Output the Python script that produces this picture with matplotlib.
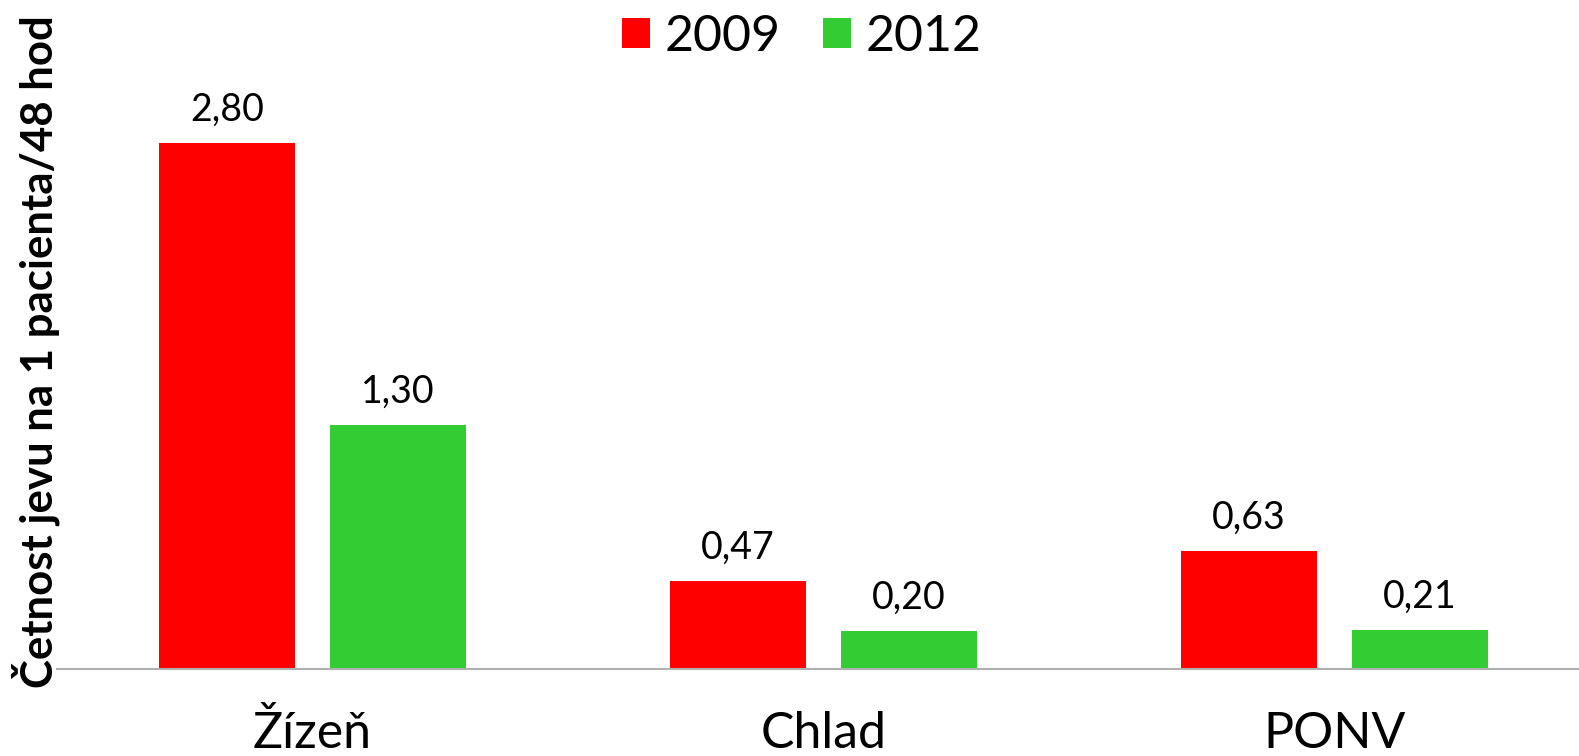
import numpy as np
import matplotlib.pyplot as plt

plt.rcParams['font.family'] = ['Lato', 'DejaVu Sans']

# data
categories = ['Žízeň', 'Chlad', 'PONV']
years = ['2009', '2012']
values_2009 = [2.80, 0.47, 0.63]
values_2012 = [1.30, 0.20, 0.21]
colors = ['#FF0000', '#33CC33']

W, H = 1579, 756
fig = plt.figure(figsize=(W / 100, H / 100), dpi=100)
ax = fig.add_axes([57 / W, (H - 669) / H, 1 - 57 / W, 669 / H])

x = np.arange(len(categories))
bw = 0.266
off = 0.167

for i, (vals, col, lab) in enumerate(zip([values_2009, values_2012], colors, years)):
    ax.bar(x + (2 * i - 1) * off, vals, bw, color=col, label=lab, zorder=2)
    for xi, v in zip(x + (2 * i - 1) * off, vals):
        ax.annotate(f'{v:.2f}'.replace('.', ','), (xi, v), xytext=(0, 16),
                    textcoords='offset points', ha='center', va='baseline',
                    fontsize=27)

ax.set_xlim(-0.5, 2.5 - 11 / 511)
ax.set_ylim(0, 669 / 188)

for s in ['top', 'right', 'left']:
    ax.spines[s].set_visible(False)
ax.spines['bottom'].set_color('#B0B0B0')
ax.spines['bottom'].set_linewidth(1.5)
ax.set_yticks([])
ax.set_xticks([])

# category names under the axis
for xi, c in zip(x, categories):
    ax.annotate(c, (xi, 0), xytext=(0, -57), textcoords='offset points',
                ha='center', va='baseline', fontsize=36, annotation_clip=False)

fig.text(36 / W, 1 - 352 / H, 'Četnost jevu na 1 pacienta/48 hod',
         rotation=90, ha='center', va='center', fontsize=31.5, fontweight='bold')

leg = ax.legend(loc='center', bbox_to_anchor=(802 / W, 1 - 37 / H),
                bbox_transform=fig.transFigure, ncol=2, frameon=False,
                fontsize=36, handlelength=0.55, handleheight=0.55,
                handletextpad=0.3, columnspacing=0.85, borderpad=0)

fig.savefig('out.png', dpi=100)
